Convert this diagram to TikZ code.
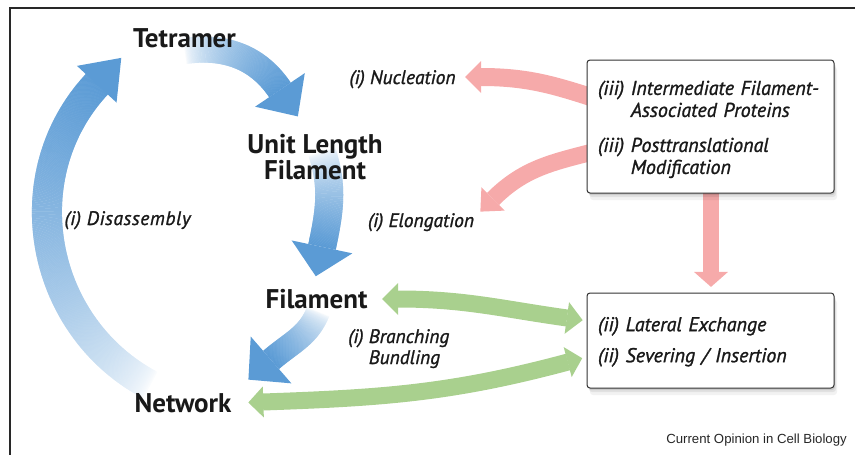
\documentclass[tikz,border=0pt]{standalone}
\usepackage{fontspec}
\setmainfont{PT Sans}
\newfontfamily\arialfont{Liberation Sans}
\newfontfamily\itlabfont{PT Sans Italic}[FakeBold=1.2]
\usetikzlibrary{decorations.markings,shadows}
\definecolor{blueA}{RGB}{91,155,213}
\definecolor{pinkA}{RGB}{246,170,170}
\definecolor{greenA}{RGB}{169,208,142}
\definecolor{frameC}{RGB}{40,40,40}
\definecolor{txtC}{RGB}{25,25,25}
\tikzset{
  gradshaft/.style={postaction={decorate,decoration={markings,
    mark=between positions 0 and 1 step 0.6pt with {%
      \pgfmathsetmacro\gfr{(\pgfkeysvalueof{/pgf/decoration/mark info/distance from start})/(\pgfdecoratedpathlength)}%
      \pgfmathsetmacro\gpc{max(0,min(100,100*pow(max(\gfr,0.001),0.6)))}%
      \fill[blueA!\gpc!white] (-0.5pt,-#1) rectangle (0.5pt,#1);}}}},
  headend/.style n args={3}{postaction={decorate,decoration={markings,
    mark=at position 0.999 with {\fill[#1] (0pt,-#2) -- (#3,0pt) -- (0pt,#2) -- cycle;}}}},
  headstart/.style n args={3}{postaction={decorate,decoration={markings,
    mark=at position 0.001 with {\fill[#1] (0pt,-#2) -- (-#3,0pt) -- (0pt,#2) -- cycle;}}}},
  mainlbl/.style={font=\fontsize{27}{25}\selectfont\bfseries, text=txtC, inner sep=0pt, anchor=base},
  itlbl/.style={font=\itlabfont\fontsize{19.5}{21}\selectfont, text=txtC, inner sep=0pt, anchor=base},
  infobox/.style={draw=black!80, line width=1pt, rounded corners=3pt, fill=white,
    text width=225pt, inner xsep=11pt, align=left, text=txtC,
    drop shadow={shadow xshift=1pt,shadow yshift=-2pt,opacity=0.10,fill=black},
    drop shadow={shadow xshift=2pt,shadow yshift=-4pt,opacity=0.07,fill=black},
    drop shadow={shadow xshift=3pt,shadow yshift=-7pt,opacity=0.05,fill=black}},
}
\begin{document}
\begin{tikzpicture}[x=1pt,y=1pt]
\useasboundingbox (0,0) rectangle (855,-455);
\draw[frameC, line width=1.8pt] (10,-455) -- (10,-8) -- (855,-8);

% blue cycle arrows
\coordinate (dis-s) at (150,-385);
\coordinate (dis-e) at (97,-84);
\path[gradshaft=15pt, headend={blueA}{27pt}{36pt}] (dis-s) to[out=152,in=227,looseness=1.05] (dis-e);

\coordinate (tu-s) at (185,-51);
\coordinate (tu-e) at (280,-90);
\path[gradshaft=13pt, headend={blueA}{30pt}{32pt}] (tu-s) to[out=8,in=124] (tu-e);

\coordinate (uf-s) at (322,-152);
\coordinate (uf-e) at (322,-247);
\path[gradshaft=14pt, headend={blueA}{31pt}{30pt}] (uf-s) to[out=-72,in=78] (uf-e);

\coordinate (fn-s) at (318,-312);
\coordinate (fn-e) at (271,-360);
\path[gradshaft=12pt, headend={blueA}{31pt}{30pt}] (fn-s) to[out=248,in=41] (fn-e);

% pink arrows
\coordinate (nuc-s) at (600,-100);
\coordinate (nuc-e) at (481,-77);
\draw[pinkA, line width=18pt, headend={pinkA}{16pt}{16pt}] (nuc-s) to[out=162,in=0] (nuc-e);

\coordinate (elo-s) at (600,-150);
\coordinate (elo-e) at (493,-199);
\draw[pinkA, line width=17pt, headend={pinkA}{16.5pt}{18pt}] (elo-s) to[out=195,in=45] (elo-e);

\coordinate (ver-s) at (711,-190);
\coordinate (ver-e) at (711,-272);
\draw[pinkA, line width=16pt, headend={pinkA}{17pt}{15pt}] (ver-s) -- (ver-e);

% green arrows
\coordinate (gu-l) at (398,-299);
\coordinate (gu-r) at (567,-318);
\draw[greenA, line width=17pt, headstart={greenA}{16pt}{16pt}, headend={greenA}{16pt}{16pt}] (gu-l) to[out=0,in=172] (gu-r);

\coordinate (gl-l) at (263,-402);
\coordinate (gl-r) at (568,-362);
\draw[greenA, line width=17pt, headstart={greenA}{15.5pt}{15pt}, headend={greenA}{15.5pt}{15pt}] (gl-l) to[out=2,in=195] (gl-r);

% boxes
\node[infobox, minimum width=247pt, minimum height=133pt, font=\itlabfont\fontsize{20}{22}\selectfont] (box1) at (710.5,-126.5)
  {\raisebox{-3.5pt}[\height][\depth]{\begin{tabular}{@{}l@{ }l@{}}(iii)&Intermediate Filament-\\&Associated Proteins\\[13pt](iii)&Posttranslational\\&Modification\end{tabular}}};
\node[infobox, minimum width=247pt, minimum height=95pt, font=\itlabfont\fontsize{20}{31}\selectfont] (box2) at (710.5,-340.5)
  {\begin{tabular}{@{}l@{}}(ii) Lateral Exchange\\(ii) Severing / Insertion\end{tabular}};

% labels
\node[mainlbl] (tetramer) at (184.5,-47) {Tetramer};
\node[mainlbl] (ulf) at (315,-153) {\begin{tabular}[t]{@{}c@{}}Unit Length\\Filament\end{tabular}};
\node[mainlbl] (filament) at (316.5,-308) {Filament};
\node[mainlbl] (network) at (183,-412) {Network};

\node[itlbl] (nucl) at (402.5,-84) {(i) Nucleation};
\node[itlbl] (disas) at (127.5,-225) {\addfontfeature{LetterSpace=3}(i) Disassembly};
\node[itlbl] (elong) at (421,-227) {(i) Elongation};
\node[itlbl, anchor=base west] (branch) at (348,-343) {\begin{tabular}[t]{@{}l@{}}(i) Branching\\\phantom{(i) }Bundling\end{tabular}};

\node[font=\arialfont\fontsize{13.2}{15}\selectfont, anchor=base east, inner sep=0pt, text=black!85] (credit) at (847,-443) {Current Opinion in Cell Biology};
\end{tikzpicture}
\end{document}
